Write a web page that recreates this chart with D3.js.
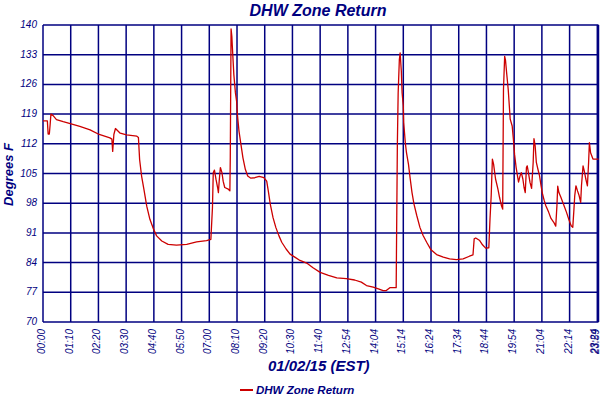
<!DOCTYPE html>
<html>
<head>
<meta charset="utf-8">
<script src="https://cdn.jsdelivr.net/npm/d3@7"></script>
<style>
    body { margin: 0; background: #fff; }
    svg text { font-family: "Liberation Sans", Arial, sans-serif; font-style: italic; fill: #000080; }
</style>
</head>
<body>
<svg id="chart" width="600" height="400"></svg>
<script>

// x is chart minutes (one tick every 70 minutes of chart), y is degrees F
var minutes = [
    0, 11, 13, 16, 18, 20, 25, 34, 51, 71, 93, 119, 142, 169, 174, 176, 179, 183, 195, 211,
    237, 241, 244, 249, 255, 262, 270, 279, 287, 300, 316, 337, 363, 388, 413, 424, 428, 430,
    433, 437, 441, 443, 445, 448, 452, 455, 459, 468, 472, 473, 475, 477, 478, 482, 486, 489,
    491, 495, 500, 505, 511, 517, 525, 535, 546, 558, 565, 569, 574, 581, 588, 596, 603, 614,
    624, 636, 649, 666, 682, 700, 721, 742, 766, 787, 804, 817, 834, 847, 859, 867, 876, 892,
    895, 897, 900, 902, 905, 907, 910, 911, 915, 918, 923, 927, 932, 937, 944, 952, 960, 969,
    980, 994, 1011, 1027, 1044, 1061, 1077, 1086, 1089, 1093, 1103, 1110, 1118, 1126, 1129,
    1132, 1135, 1138, 1143, 1149, 1153, 1158, 1161, 1163, 1166, 1168, 1171, 1175, 1180, 1185,
    1188, 1191, 1195, 1199, 1201, 1205, 1208, 1212, 1215, 1218, 1221, 1223, 1226, 1230, 1234,
    1238, 1240, 1243, 1246, 1250, 1254, 1258, 1261, 1266, 1270, 1277, 1283, 1290, 1295, 1298,
    1300, 1303, 1308, 1312, 1316, 1322, 1329, 1334, 1338, 1341, 1343, 1346, 1350, 1354, 1358,
    1360, 1364, 1367, 1371, 1375, 1378, 1380, 1383, 1389, 1400, 1403
];
var temps = [
    117.4, 117.4, 114.3, 114.3, 116.5, 119.0, 118.7, 117.7, 117.2, 116.7, 116.1, 115.3, 114.2, 113.4, 113.1, 110.2, 114.2, 115.6, 114.5, 114.1,
    113.8, 113.5, 108.3, 104.4, 101.2, 97.3, 94.2, 91.9, 90.3, 89.1, 88.3, 88.1, 88.3, 88.9, 89.2, 89.5, 97.0, 105.2,
    105.8, 103.6, 101.7, 100.5, 103.2, 106.4, 105.2, 103.2, 101.7, 101.3, 100.9, 108.7, 139.1, 137.3, 135.3, 128.3, 124.0, 122.0,
    118.9, 115.0, 111.8, 108.7, 106.0, 104.4, 103.9, 104.0, 104.3, 104.0, 103.2, 100.9, 97.8, 94.6, 92.3, 90.3, 88.8, 87.2,
    86.0, 85.3, 84.5, 83.9, 82.8, 81.7, 81.0, 80.4, 80.2, 79.9, 79.4, 78.6, 78.2, 77.8, 77.4, 77.4, 78.1, 78.1,
    111.9, 124.0, 131.8, 133.4, 129.1, 124.0, 120.9, 117.0, 112.3, 109.9, 107.2, 104.1, 100.5, 97.8, 95.1, 92.3, 90.4, 88.8,
    87.0, 85.9, 85.3, 84.9, 84.7, 84.9, 85.5, 85.8, 89.6, 89.8, 89.2, 88.2, 87.4, 87.5, 94.3,
    99.8, 108.4, 107.2, 103.7, 101.3, 99.4, 97.4, 96.6, 124.8, 132.6, 131.8, 128.7, 124.8, 117.8, 116.2,
    113.1, 109.5, 106.4, 104.1, 103.0, 104.5, 105.2, 103.7, 101.7, 100.5, 106.4, 106.8, 105.2, 102.9, 101.5,
    107.6, 113.2, 111.5, 107.6, 106.0, 104.5, 102.1, 100.4, 98.6, 97.4, 95.9, 94.4, 93.5, 92.6, 97.4,
    102.0, 100.5, 99.4, 98.4, 97.4, 95.9, 93.9, 92.7, 92.3, 96.6, 99.8, 102.1, 100.9, 99.8, 98.2,
    102.1, 106.8, 105.6, 103.7, 102.1, 107.6, 112.3, 109.9, 108.4, 108.4, 108.4
];

var tickMinutes = [0, 70, 140, 210, 280, 350, 420, 490, 560, 630, 700, 770, 840, 910, 980, 1050, 1120, 1190, 1260, 1330, 1400, 1403];
var tickLabels = ['00:00', '01:10', '02:20', '03:30', '04:40', '05:50', '07:00', '08:10', '09:20', '10:30', '11:40',
    '12:54', '14:04', '15:14', '16:24', '17:34', '18:44', '19:54', '21:04', '22:14', '23:24', '23:59'];
var yTicks = [70, 77, 84, 91, 98, 105, 112, 119, 126, 133, 140];

var seriesName = 'DHW Zone Return';
var xTitle = '01/02/15 (EST)';
var yTitle = 'Degrees F';

var margin = { top: 25, right: 1.5, bottom: 78, left: 43 };
var width = 600 - margin.left - margin.right;
var height = 400 - margin.top - margin.bottom;

var svg = d3.select('#chart');

var x = d3.scaleLinear().domain([0, 1403]).range([0, width]);
var y = d3.scaleLinear().domain([70, 140]).range([height, 0]);

var g = svg.append('g')
    .attr('transform', 'translate(' + margin.left + ',' + margin.top + ')');

// Grid lines
g.append('g')
    .selectAll('line')
        .data(yTicks)
    .enter().append('line')
        .attr('x1', 0)
        .attr('x2', width)
        .attr('y1', function(d) { return y(d); })
        .attr('y2', function(d) { return y(d); })
        .style('stroke', '#000080')
        .style('stroke-width', 1.5);

g.append('g')
    .selectAll('line')
        .data(tickMinutes)
    .enter().append('line')
        .attr('x1', function(d) { return x(d); })
        .attr('x2', function(d) { return x(d); })
        .attr('y1', 0)
        .attr('y2', height)
        .style('stroke', '#000080')
        .style('stroke-width', 1.5);

// Y tick labels
g.append('g')
    .selectAll('text')
        .data(yTicks)
    .enter().append('text')
        .attr('x', -6)
        .attr('y', function(d) { return y(d); })
        .attr('dy', '0.3em')
        .attr('text-anchor', 'end')
        .style('font-size', '10px')
        .text(function(d) { return d; });

// X tick labels, rotated (the last two sit on top of each other, as in the source)
g.append('g')
    .selectAll('text')
        .data(tickMinutes)
    .enter().append('text')
        .attr('transform', function(d) {
            return 'translate(' + x(d) + ',' + (height + 7) + ') rotate(-90)';
        })
        .attr('dy', function(d, i) { return i >= tickMinutes.length - 2 ? '0.05em' : '0.2em'; })
        .attr('text-anchor', 'end')
        .style('font-size', '10px')
        .text(function(d, i) { return tickLabels[i]; });

// Series line
var line = d3.line()
    .x(function(d) { return x(d[0]); })
    .y(function(d) { return y(d[1]); });

g.append('path')
    .datum(d3.zip(minutes, temps))
    .attr('d', line)
    .style('fill', 'none')
    .style('stroke', '#cc0000')
    .style('stroke-width', 1.3)
    .style('stroke-linejoin', 'round');

// Titles
svg.append('text')
    .attr('x', 318)
    .attr('y', 16)
    .attr('text-anchor', 'middle')
    .style('font-size', '16px')
    .style('font-weight', 'bold')
    .text(seriesName);

svg.append('text')
    .attr('x', margin.left + width / 2 - 2)
    .attr('y', 371)
    .attr('text-anchor', 'middle')
    .style('font-size', '15px')
    .style('font-weight', 'bold')
    .text(xTitle);

svg.append('text')
    .attr('transform', 'translate(13,' + (margin.top + height / 2 + 1) + ') rotate(-90)')
    .attr('text-anchor', 'middle')
    .style('font-size', '13px')
    .style('font-weight', 'bold')
    .text(yTitle);

// Legend
var legend = svg.append('g')
    .attr('transform', 'translate(240,390)');

legend.append('line')
    .attr('x1', 0)
    .attr('x2', 13)
    .style('stroke', '#cc0000')
    .style('stroke-width', 2);

legend.append('text')
    .attr('x', 16)
    .attr('dy', '0.35em')
    .style('font-size', '11.5px')
    .style('font-weight', 'bold')
    .text(seriesName);

</script>
</body>
</html>
